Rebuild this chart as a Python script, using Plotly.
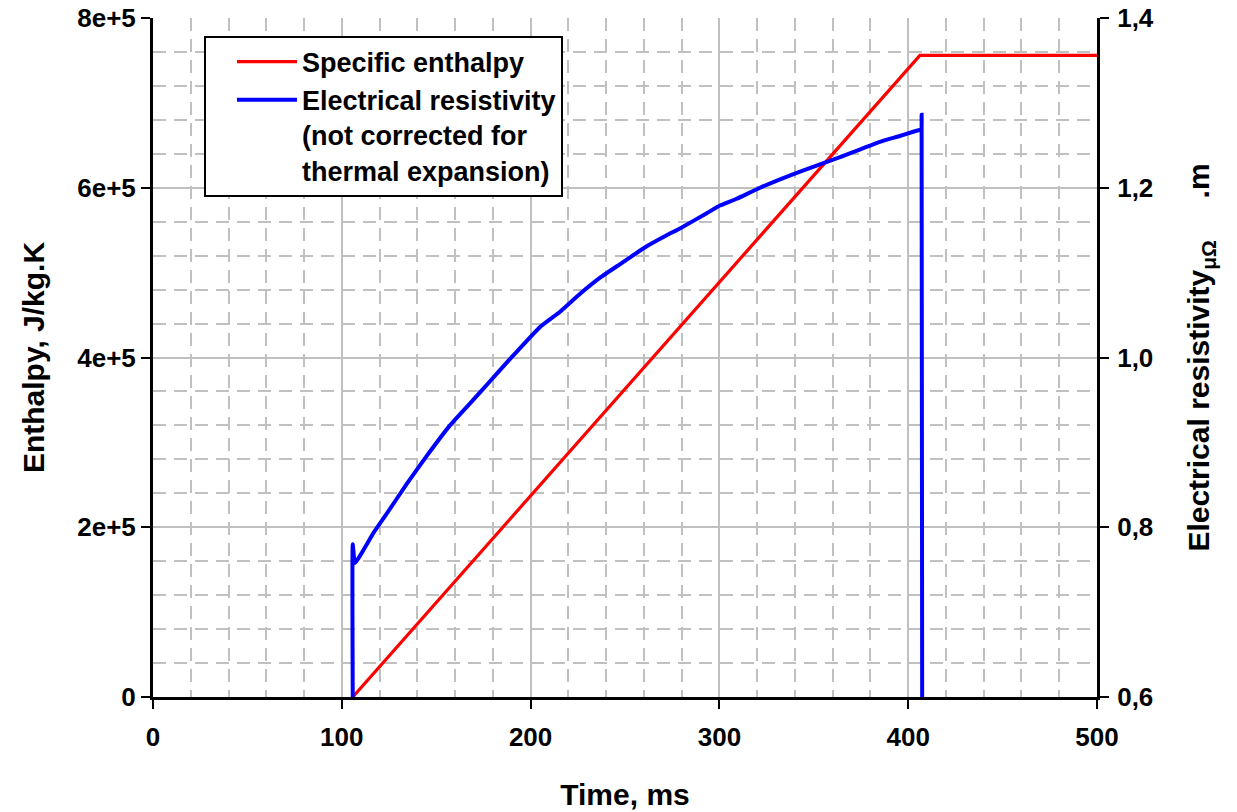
import plotly.graph_objects as go

# ---- data ----
time_enthalpy = [105.8, 406.2, 500.0]
enthalpy = [0.0, 7.56e5, 7.56e5]

time_resist = [105.8, 105.8, 107.0, 116.7, 123.8, 134.4, 145.0, 157.3, 169.6, 178.5,
               189.0, 205.0, 215.6, 226.2, 236.8, 247.4, 261.5, 272.1, 279.1, 293.3,
               300.3, 309.2, 321.5, 342.7, 363.9, 385.0, 395.6, 402.7, 405.9, 407.0,
               407.1, 407.4]
resistivity = [0.600, 0.780, 0.758, 0.793, 0.816, 0.851, 0.884, 0.920, 0.950, 0.972,
               0.998, 1.036, 1.054, 1.075, 1.094, 1.110, 1.131, 1.144, 1.152, 1.170,
               1.179, 1.187, 1.200, 1.219, 1.236, 1.254, 1.261, 1.266, 1.268, 1.268,
               1.286, 0.600]

x_ticks = [0, 100, 200, 300, 400, 500]
y_ticks = [0, 2e5, 4e5, 6e5, 8e5]
y_tick_text = ["0", "2e+5", "4e+5", "6e+5", "8e+5"]
y2_ticks = [0.6, 0.8, 1.0, 1.2, 1.4]
y2_tick_text = ["0,6", "0,8", "1,0", "1,2", "1,4"]

FONT = "Liberation Sans, Arial, sans-serif"
GRID = "#C0C0C0"

fig = go.Figure()
fig.add_trace(go.Scatter(x=time_enthalpy, y=enthalpy, mode="lines",
                         name="Specific enthalpy",
                         line=dict(color="#FF0000", width=3.2)))
fig.add_trace(go.Scatter(x=time_resist, y=resistivity, mode="lines", yaxis="y2",
                         name="Electrical resistivity<br>(not corrected for<br>thermal expansion)",
                         line=dict(color="#0000FF", width=4, shape="spline", smoothing=0.4)))

tickfont = dict(family=FONT, size=26, color="black", weight="bold")
titlefont = dict(family=FONT, size=30, color="black", weight="bold")

fig.update_layout(
    width=1237, height=812,
    margin=dict(l=145, r=148, t=10, b=123, autoexpand=False),
    paper_bgcolor="white", plot_bgcolor="white",
    showlegend=True,
    legend=dict(x=0.054, y=0.974, xanchor="left", yanchor="top",
                bgcolor="white", bordercolor="black", borderwidth=2,
                font=dict(family=FONT, size=27, color="black", weight="bold"),
                itemwidth=60, indentation=26, tracegroupgap=0, valign="top"),
    xaxis=dict(range=[0, 500], tickvals=x_ticks, automargin=False,
               showline=True, linecolor="black", linewidth=3,
               ticks="outside", ticklen=9, tickwidth=2, tickcolor="black",
               tickfont=tickfont, ticklabelstandoff=6, ticklabeloverflow="allow",
               showgrid=True, gridcolor=GRID, gridwidth=2,
               minor=dict(dtick=20, showgrid=True, gridcolor=GRID, gridwidth=2,
                          griddash="13px,8px", ticks=""),
               zeroline=False,
               title=dict(text="Time, ms", font=titlefont, standoff=33)),
    yaxis=dict(range=[0, 8e5], tickvals=y_ticks, ticktext=y_tick_text, automargin=False,
               showline=True, linecolor="black", linewidth=3,
               ticks="outside", ticklen=9, tickwidth=2, tickcolor="black",
               tickfont=tickfont, ticklabeloverflow="allow",
               showgrid=True, gridcolor=GRID, gridwidth=2,
               minor=dict(dtick=4e4, tick0=0, showgrid=True, gridcolor=GRID, gridwidth=2,
                          griddash="13px,8px", ticks=""),
               zeroline=False,
               title=dict(text="Enthalpy, J/kg.K", font=titlefont, standoff=24)),
    yaxis2=dict(range=[0.6, 1.4], tickvals=y2_ticks, ticktext=y2_tick_text,
                overlaying="y", side="right", automargin=False,
                showline=True, linecolor="black", linewidth=3,
                ticks="outside", ticklen=9, tickwidth=2, tickcolor="black",
                tickfont=tickfont, ticklabelstandoff=3, ticklabeloverflow="allow",
                showgrid=False, zeroline=False,
                title=dict(text="Electrical resistivity<sub>μΩ</sub>     .m",
                           font=titlefont, standoff=36)),
)

fig.write_html("out.html")
